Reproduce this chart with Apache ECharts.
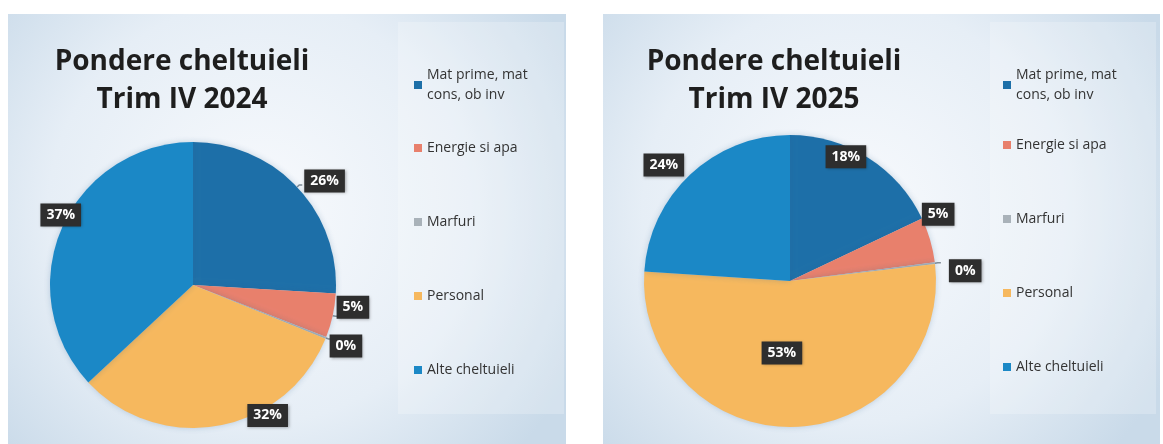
<!DOCTYPE html>
<html>
<head>
<meta charset="utf-8">
<script src="https://cdn.jsdelivr.net/npm/echarts@6/dist/echarts.min.js"></script>
<style>
  html, body { margin: 0; padding: 0; background: #fff; }
  #wrap { position: relative; width: 1163px; height: 444px; }
  #chart2024 { position: absolute; left: 0; top: 0; width: 580px; height: 444px; }
  #chart2025 { position: absolute; left: 580px; top: 0; width: 583px; height: 444px; }
</style>
</head>
<body>
<div id="wrap">
  <div id="chart2024"></div>
  <div id="chart2025"></div>
</div>
<script>
const categories = ['Mat prime, mat cons, ob inv', 'Energie si apa', 'Marfuri', 'Personal', 'Alte cheltuieli']
const values2024 = [26, 5, 0.2, 32, 37]
const values2025 = [18, 5, 0.2, 53, 24]
const titles = ['Pondere cheltuieli\nTrim IV 2024', 'Pondere cheltuieli\nTrim IV 2025']

const colors = ['#1d6fa8', '#e8806c', '#a9b2b9', '#f6b85e', '#1b88c6']
const font = '"Open Sans", Lato, sans-serif'

const labelBox = {
  color: '#fff',
  fontFamily: font,
  fontWeight: 'bold',
  fontSize: 14,
  backgroundColor: '#2e2e2e',
  padding: [5, 6, 4, 6],
  textBorderWidth: 0,
  shadowColor: 'rgba(0,0,0,0.35)',
  shadowBlur: 3,
  shadowOffsetX: 1,
  shadowOffsetY: 1
}

const pct = p => Math.round(p.percent) + '%'

// cfg.place: where each label goes ('out', 'outNoLine', 'in', 'edge')
// cfg.nudge: small [dx, dy] moves so labels sit where Excel put them
const buildOption = (title, values, cfg) => {
  const mainData = categories.map((name, i) => {
    const place = cfg.place[i]
    const item = { name: name, value: values[i] }
    if (place === 'edge') item.label = { show: false }
    else if (place === 'in') item.label = { show: true, position: 'inside' }
    else if (place === 'outNoLine') item.labelLine = { show: false, length: 6, length2: 0 }
    return item
  })
  const ringData = categories.map((name, i) => ({
    name: name,
    value: values[i],
    label: { show: cfg.place[i] === 'edge' }
  }))
  const nudge = params => {
    const d = cfg.nudge[params.dataIndex]
    return { dx: d[0], dy: d[1] }
  }
  const legendText = { fontFamily: font, fontSize: 14, color: '#333', lineHeight: 20 }

  return {
    animation: false,
    color: colors,
    graphic: [
      {
        type: 'rect',
        silent: true,
        shape: cfg.panel,
        style: {
          fill: {
            type: 'radial', x: 0.45, y: 0.45, r: 0.8,
            colorStops: [
              { offset: 0, color: '#f8fafd' },
              { offset: 0.6, color: '#e6eef6' },
              { offset: 1, color: '#c9dae9' }
            ]
          }
        }
      },
      {
        type: 'rect',
        silent: true,
        shape: cfg.legendPanel,
        style: { fill: 'rgba(255,255,255,0.22)' }
      }
    ],
    title: {
      text: title,
      left: cfg.titleX,
      top: 38,
      textAlign: 'center',
      textStyle: {
        fontFamily: font,
        fontSize: 28,
        fontWeight: 'bold',
        color: '#1e1e1e',
        lineHeight: 38
      }
    },
    legend: [
      {
        data: [categories[0]],
        orient: 'vertical',
        left: cfg.legendX,
        top: 65,
        padding: 0,
        itemWidth: 8,
        itemHeight: 8,
        icon: 'rect',
        formatter: n => n.replace(', mat cons', ', mat\ncons'),
        textStyle: legendText
      },
      {
        data: categories.slice(1),
        orient: 'vertical',
        left: cfg.legendX,
        top: cfg.legendTop2,
        padding: 0,
        itemGap: 54,
        itemWidth: 8,
        itemHeight: 8,
        icon: 'rect',
        textStyle: legendText
      }
    ],
    series: [
      {
        name: 'main',
        type: 'pie',
        center: cfg.center,
        radius: cfg.radius,
        startAngle: 90,
        clockwise: true,
        avoidLabelOverlap: false,
        itemStyle: {
          borderWidth: 0,
          shadowColor: 'rgba(40,90,140,0.25)',
          shadowBlur: 6
        },
        label: Object.assign({ show: true, position: 'outside', formatter: pct, distanceToLabelLine: 2 }, labelBox),
        labelLine: {
          show: true,
          length: 3,
          length2: 3,
          smooth: false,
          lineStyle: { color: '#7f8c96', width: 1.5 }
        },
        labelLayout: nudge,
        emphasis: { scale: false },
        data: mainData
      },
      {
        name: 'edgeLabels',
        type: 'pie',
        center: cfg.center,
        radius: cfg.edgeRing,
        startAngle: 90,
        clockwise: true,
        silent: true,
        avoidLabelOverlap: false,
        itemStyle: { color: 'rgba(0,0,0,0)', borderWidth: 0 },
        label: Object.assign({ show: true, position: 'inside', formatter: pct }, labelBox),
        labelLine: { show: false },
        labelLayout: nudge,
        emphasis: { disabled: true },
        tooltip: { show: false },
        data: ringData
      }
    ]
  }
}

const chartA = echarts.init(document.getElementById('chart2024'))
chartA.setOption(buildOption(titles[0], values2024, {
  panel: { x: 8, y: 14, width: 558, height: 440 },
  legendPanel: { x: 398, y: 22, width: 166, height: 392 },
  titleX: 177,
  legendX: 414,
  legendTop2: 138,
  center: [193, 285],
  radius: 143,
  edgeRing: [140, 160],
  place: ['out', 'out', 'out', 'edge', 'edge'],
  nudge: [[0, -4], [-4, -9], [-4, 7], [47, -20], [8, -9]]
}))

const chartB = echarts.init(document.getElementById('chart2025'))
chartB.setOption(buildOption(titles[1], values2025, {
  panel: { x: 23, y: 14, width: 557, height: 440 },
  legendPanel: { x: 410, y: 22, width: 166, height: 392 },
  titleX: 189,
  legendX: 423,
  legendTop2: 135,
  center: [210, 281],
  radius: 146,
  edgeRing: [128, 146],
  place: ['edge', 'outNoLine', 'out', 'in', 'outNoLine'],
  nudge: [[-19, -6], [-16, -24], [6, 8], [-10, -4], [0, -5]]
}))

window.addEventListener('resize', () => {
  chartA.resize()
  chartB.resize()
})
</script>
</body>
</html>
